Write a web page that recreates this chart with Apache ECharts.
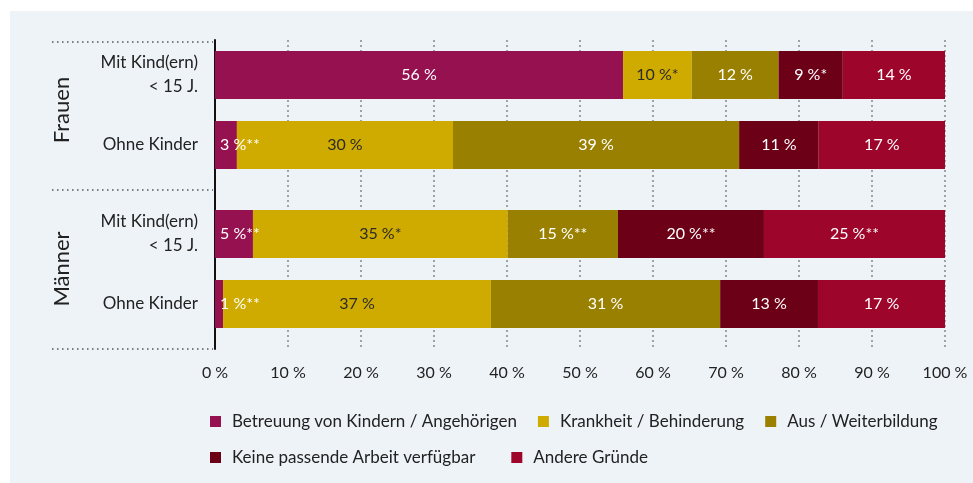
<!DOCTYPE html>
<html>
<head>
<meta charset="utf-8">
<script src="https://cdn.jsdelivr.net/npm/echarts@6/dist/echarts.min.js"></script>
<style>
html,body{margin:0;padding:0;background:#fff;}
#chart{width:973px;height:483px;background:linear-gradient(#eef3f7,#eef3f7) no-repeat 10px 11px / 963px 472px, #fff;}
</style>
</head>
<body>
<div id="chart"></div>
<script>
// ---- data ----
const groups = ['Frauen', 'Männer'];
const categories = ['Mit Kind(ern)\n< 15 J.', 'Ohne Kinder'];
const seriesNames = ['Betreuung von Kindern / Angehörigen', 'Krankheit / Behinderung', 'Aus / Weiterbildung', 'Keine passende Arbeit verfügbar', 'Andere Gründe'];
const xTicks = [0, 10, 20, 30, 40, 50, 60, 70, 80, 90, 100];
// order: Frauen mit Kind, Frauen ohne Kinder, Männer mit Kind, Männer ohne Kinder
const betreuung   = [55.9, 3.0, 5.2, 1.1];
const krankheit   = [9.4, 29.6, 34.9, 36.7];
const ausbildung  = [11.9, 39.2, 15.1, 31.4];
const keineArbeit = [8.8, 10.9, 20.0, 13.4];
const andere      = [14.0, 17.3, 24.8, 17.4];
const betreuungLabels   = ['56 %', '3 %**', '5 %**', '1 %**'];
const krankheitLabels   = ['10 %*', '30 %', '35 %*', '37 %'];
const ausbildungLabels  = ['12 %', '39 %', '15 %**', '31 %'];
const keineArbeitLabels = ['9 %*', '11 %', '20 %**', '13 %'];
const andereLabels      = ['14 %', '17 %', '25 %**', '17 %'];

const values = [betreuung, krankheit, ausbildung, keineArbeit, andere];
const labels = [betreuungLabels, krankheitLabels, ausbildungLabels, keineArbeitLabels, andereLabels];
const colors = ['#951150', '#cfab00', '#9a8000', '#6c0016', '#9e052b'];
const labelColors = ['#ffffff', '#2a2a2a', '#ffffff', '#ffffff', '#ffffff'];

const FONT = 'Lato';
const chart = echarts.init(document.getElementById('chart'), null, {renderer: 'canvas'});

const series = [];
groups.forEach((g, gi) => {
  seriesNames.forEach((name, si) => {
    const data = categories.map((c, ci) => {
      const idx = gi * 2 + ci;
      const v = values[si][idx];
      const item = {value: v, label: {formatter: labels[si][idx]}};
      if (v < 6) { item.label.position = 'insideLeft'; item.label.distance = 5; }
      return item;
    });
    series.push({
      name: name,
      type: 'bar',
      stack: 'g' + gi,
      xAxisIndex: gi + 1,
      yAxisIndex: gi + 1,
      barWidth: 48,
      itemStyle: {color: colors[si]},
      label: {show: true, position: 'inside', color: labelColors[si], fontSize: 16, fontFamily: FONT},
      emphasis: {disabled: true},
      data: data
    });
  });
});

const catAxis = (gi) => ({
  type: 'category', gridIndex: gi + 1, inverse: true, data: categories,
  name: groups[gi], nameLocation: 'middle', nameRotate: 90, nameGap: 142,
  nameTextStyle: {fontSize: 22, color: '#222', fontFamily: FONT},
  axisLine: {show: false}, axisTick: {show: false},
  axisLabel: {fontSize: 17, color: '#222', fontFamily: FONT, margin: 17, lineHeight: 24, align: 'right'}
});
const hiddenX = (gi) => ({type: 'value', gridIndex: gi + 1, min: 0, max: 100, show: false});

const sepLine = (y) => ({
  type: 'line', shape: {x1: 52, y1: y, x2: 213, y2: y},
  style: {stroke: '#555', lineWidth: 1.5, lineDash: [1.5, 3.5]}, silent: true
});

const legendBase = {
  itemWidth: 11, itemHeight: 11, icon: 'rect',
  textStyle: {fontSize: 17, color: '#222', fontFamily: FONT, padding: [0, 0, 0, 6]}
};

chart.setOption({
  animation: false,
  textStyle: {fontFamily: FONT},
  grid: [
    {left: 215, right: 28, top: 40, bottom: 134},
    {left: 215, right: 28, top: 40, bottom: 303},
    {left: 215, right: 28, top: 199, bottom: 144}
  ],
  xAxis: [
    {type: 'value', gridIndex: 0, min: xTicks[0], max: xTicks[xTicks.length - 1], interval: 10,
     axisLine: {show: false}, axisTick: {show: false},
     splitLine: {show: true, lineStyle: {color: '#888', width: 1.5, type: [2, 3]}},
     axisLabel: {formatter: '{value} %', fontSize: 16, color: '#222', fontFamily: FONT, margin: 16}},
    hiddenX(0), hiddenX(1)
  ],
  yAxis: [
    {type: 'value', gridIndex: 0, axisLine: {show: true, lineStyle: {color: '#111', width: 2}},
     axisLabel: {show: false}, axisTick: {show: false}, splitLine: {show: false}},
    catAxis(0), catAxis(1)
  ],
  legend: [
    Object.assign({left: 205, top: 408, itemGap: 21, data: seriesNames.slice(0, 3)}, legendBase),
    Object.assign({left: 205, top: 444, itemGap: 36, data: seriesNames.slice(3)}, legendBase)
  ],
  graphic: [sepLine(42), sepLine(190), sepLine(349)],
  series: series
});
</script>
</body>
</html>
